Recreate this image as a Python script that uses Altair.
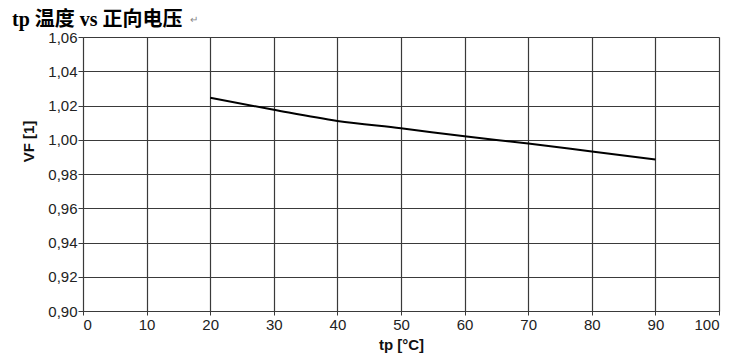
import altair as alt
import pandas as pd

# data
tp = [20, 30, 40, 50, 60, 70, 80, 90]
vf = [1.0245, 1.0175, 1.011, 1.0067, 1.002, 0.9978, 0.9931, 0.9884]
x_ticks = [0, 10, 20, 30, 40, 50, 60, 70, 80, 90, 100]
y_ticks = [0.90, 0.92, 0.94, 0.96, 0.98, 1.00, 1.02, 1.04, 1.06]
title_text = ["tp 温度 vs 正向电压"]
mark_symbol = ["↵"]

df = pd.DataFrame({"tp": tp, "vf": vf})
label_font = "Liberation Sans Narrow, Arial Narrow, Liberation Sans"
ink = "#3a3a3a"

line = alt.Chart(df).mark_line(color="black", strokeWidth=2, interpolate="monotone").encode(
    x=alt.X("tp:Q",
            scale=alt.Scale(domain=[0, 100], nice=False),
            axis=alt.Axis(values=x_ticks, title="tp [°C]", format="d",
                          labelFont=label_font, labelFontSize=15, labelColor="#222",
                          labelPadding=2, tickSize=4, tickColor=ink, domainColor=ink,
                          gridColor=ink, gridWidth=1.2,
                          titleFont="Liberation Sans Narrow, Liberation Sans", titleFontSize=15,
                          titleFontWeight="bold", titleColor="#111", titlePadding=5)),
    y=alt.Y("vf:Q",
            scale=alt.Scale(domain=[0.90, 1.06], nice=False, zero=False),
            axis=alt.Axis(values=y_ticks, title="VF [1]",
                          labelExpr="replace(format(datum.value, '.2f'), '.', ',')",
                          labelFont=label_font, labelFontSize=15, labelColor="#222",
                          labelPadding=1, tickSize=5, tickColor=ink, domainColor=ink,
                          gridColor=ink, gridWidth=1.2,
                          titleFont="Liberation Sans Narrow, Liberation Sans", titleFontSize=15,
                          titleFontWeight="bold", titleColor="#111",
                          titleAngle=-90, titleX=-55, titleY=104,
                          titleAlign="center", titleBaseline="middle")),
)

heading = alt.Chart(pd.DataFrame({"t": title_text})).mark_text(
    color="black", fontSize=20, fontWeight="bold", align="left", baseline="alphabetic",
    font="Liberation Serif, Noto Sans CJK SC"
).encode(x=alt.value(-71), y=alt.value(-11), text="t:N")

para = alt.Chart(pd.DataFrame({"t": mark_symbol})).mark_text(
    color="#888", fontSize=10, align="left", baseline="middle"
).encode(x=alt.value(107), y=alt.value(-17), text="t:N")

chart = alt.layer(line, heading, para).properties(
    width=636, height=274,
    autosize=alt.AutoSizeParams(type="none"),
    padding={"left": 75, "top": 29, "right": 15, "bottom": 42},
).configure_view(stroke=ink, strokeWidth=1.2).configure(background="white")

chart.save("out.html", embed_options={"renderer": "svg", "actions": False})
